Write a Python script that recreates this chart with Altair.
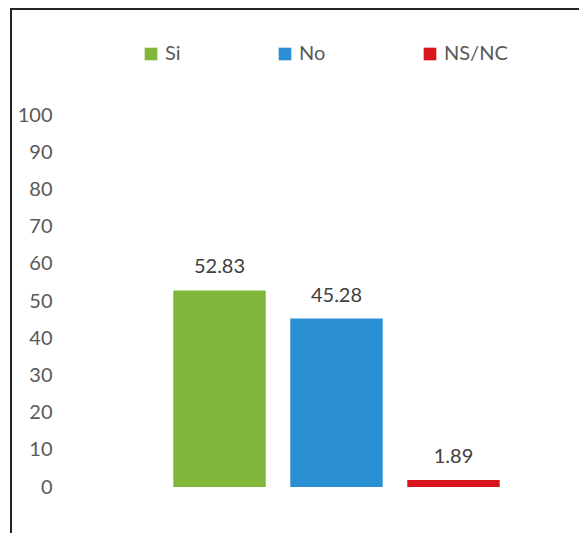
import altair as alt
import pandas as pd

categories = ["Si", "No", "NS/NC"]
values = [52.83, 45.28, 1.89]
labels = ["52.83", "45.28", "1.89"]
colors = ["#80B73A", "#2B8FD3", "#D9151E"]
y_ticks = [0, 10, 20, 30, 40, 50, 60, 70, 80, 90, 100]

df = pd.DataFrame({"cat": categories, "val": values, "lab": labels})

FONT = "Lato"
W, H = 351, 372

x_enc = alt.X("cat:N", sort=categories, axis=None,
              scale=alt.Scale(paddingInner=0.21, paddingOuter=0.105))

y_scale = alt.Scale(domain=[0, 100], nice=False)
y_axis = alt.Axis(values=y_ticks, title=None, grid=False, domain=False,
                  ticks=False, labelPadding=109, labelFont=FONT,
                  labelFontSize=20, labelColor="#595959",
                  labelOverlap=False, labelBound=False, tickCount=11)

bars = alt.Chart(df).mark_bar().encode(
    x=x_enc,
    y=alt.Y("val:Q", scale=y_scale, axis=y_axis),
    color=alt.Color("cat:N", sort=categories,
                    scale=alt.Scale(domain=categories, range=colors),
                    legend=alt.Legend(orient="none", direction="horizontal",
                                      legendX=-20, legendY=-71, title=None,
                                      symbolType="square", symbolSize=160,
                                      symbolStrokeWidth=0, symbolOpacity=1,
                                      labelFont=FONT, labelFontSize=20,
                                      labelColor="#595959", labelOffset=4,
                                      columnPadding=94, padding=0)),
)

text = alt.Chart(df).mark_text(baseline="bottom", dy=-13, font=FONT,
                               fontSize=20, color="#404040").encode(
    x=alt.X("cat:N", sort=categories, axis=None),
    y=alt.Y("val:Q", scale=y_scale, axis=y_axis),
    text="lab:N",
)

frame_left = alt.Chart(df).mark_rule(color="#222222", strokeWidth=1.5).encode(
    x=alt.value(-150), y=alt.value(-107), y2=alt.value(H + 60))
frame_top = alt.Chart(df).mark_rule(color="#222222", strokeWidth=1.5).encode(
    y=alt.value(-106), x=alt.value(-150), x2=alt.value(430))

chart = alt.layer(bars, text, frame_left, frame_top).properties(
    width=W, height=H,
    autosize=alt.AutoSizeParams(type="none"),
    padding={"left": 153, "top": 107, "right": 67, "bottom": 54},
).configure(background="white").configure_view(stroke=None, strokeWidth=0
).configure_axis(labelOverlap=False)

chart.save("out.html", embed_options={"renderer": "svg", "actions": False})
